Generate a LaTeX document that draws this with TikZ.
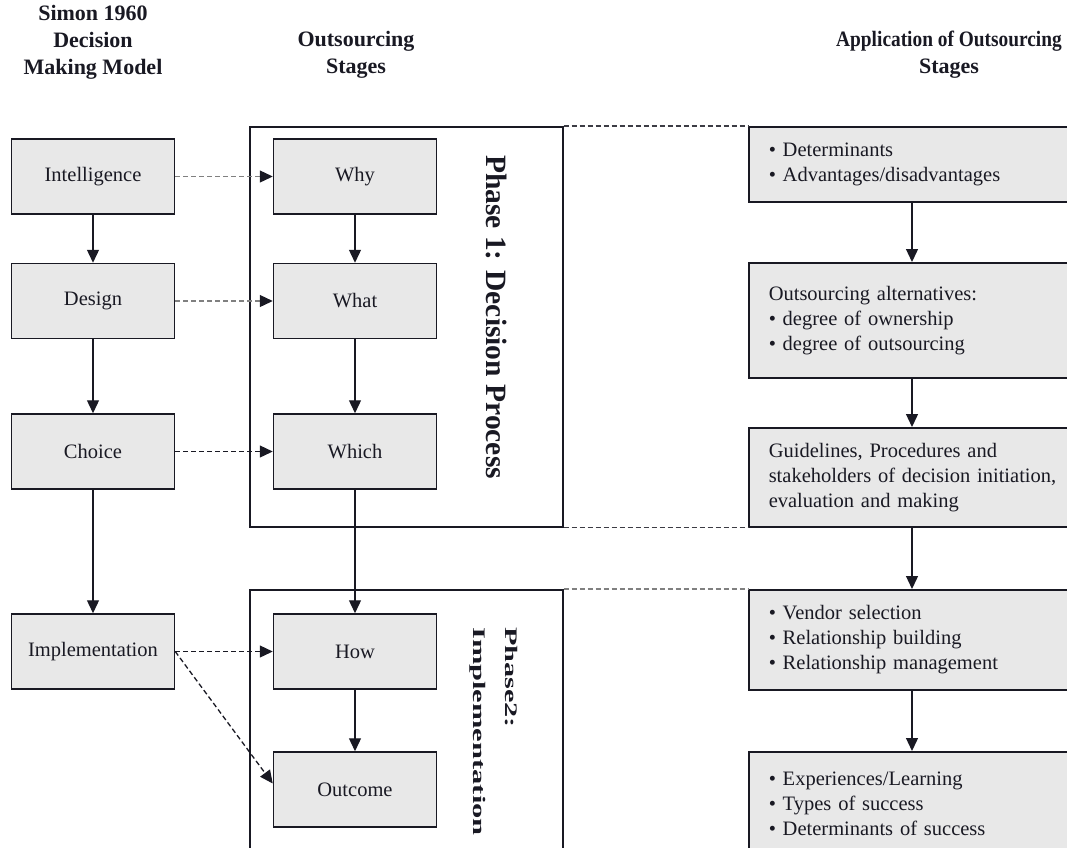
\documentclass[tikz,border=0pt]{standalone}
\usepackage{fontspec}
\setmainfont{Liberation Serif}
\usetikzlibrary{arrows.meta}
\definecolor{boxgray}{RGB}{232,232,232}
\definecolor{dashgray}{RGB}{128,128,128}
\definecolor{inkc}{RGB}{25,25,35}
\begin{document}
\begin{tikzpicture}[x=1pt,y=-1pt,
  sbox/.style={draw=inkc, line width=1.5pt, fill=boxgray, minimum width=163pt, minimum height=75pt, inner sep=0pt, text=inkc, font=\fontsize{20.5}{25}\selectfont},
  rbox/.style={draw=inkc, line width=1.5pt, fill=boxgray, text width=320pt, inner xsep=20pt, inner ysep=0pt, align=left, anchor=north west, text=inkc, font=\fontsize{20.5}{25}\selectfont},
  phbox/.style={draw=inkc, line width=1.5pt, anchor=north west, inner sep=0pt},
  hdr/.style={align=center, text=inkc, font=\bfseries\fontsize{22}{27}\selectfont},
  arr/.style={draw=inkc, line width=1.3pt, -{Triangle[length=13pt,width=12pt,color=inkc]}},
  gdarr/.style={arr, draw=dashgray, dash pattern=on 5pt off 3pt},
  kdarr/.style={arr, dash pattern=on 5pt off 3pt},
  kdline/.style={draw=inkc!85, line width=1.4pt, dash pattern=on 5pt off 3pt},
  gdline/.style={draw=dashgray, line width=1.4pt, dash pattern=on 5pt off 3pt}
]
\useasboundingbox (0,0) rectangle (1067,847);
\clip (0,0) rectangle (1067,847);

% headers
\node[hdr] (h1) at (93,42) {Simon 1960\\Decision\\Making Model};
\node[hdr] (h2) at (356,55) {Outsourcing\\Stages};
\node[hdr] (h3) at (949,55) {\scalebox{0.88}[1]{Application of Outsourcing}\\Stages};

% phase boxes
\node[phbox, minimum width=313pt, minimum height=400pt] (ph1) at (249,126) {};
\node[phbox, minimum width=313pt, minimum height=300pt] (ph2) at (249,589) {};

% phase labels
\node[rotate=-90, inner sep=0pt, text=inkc, font=\bfseries\fontsize{29.5}{32}\selectfont] (lab1) at (497,317) {Phase 1: Decision Process};
\node[rotate=-90, anchor=north west, align=left, inner sep=0pt, text=inkc, font=\bfseries\fontsize{28}{32}\selectfont] (lab2) at (518,627) {\scalebox{1.08}[0.63]{Phase2:}\\\scalebox{1.09}[0.63]{Implementation}};

% left column
\node[sbox] (int) at (93,176.5) {Intelligence};
\node[sbox] (des) at (93,301) {Design};
\node[sbox] (cho) at (93,451.5) {Choice};
\node[sbox] (imp) at (93,651.5) {Implementation};

% middle column
\node[sbox] (why) at (355,176.5) {Why};
\node[sbox] (wht) at (355,301) {What};
\node[sbox] (whc) at (355,451.5) {Which};
\node[sbox] (how) at (355,651.5) {How};
\node[sbox] (out) at (355,789.5) {Outcome};

% right column
\node[rbox, minimum height=75pt] (r1) at (748,126) {\makebox[14pt][l]{•}Determinants\\\makebox[14pt][l]{•}Advantages/disadvantages};
\node[rbox, minimum height=115pt] (r2) at (748,262) {Outsourcing alternatives:\\\makebox[14pt][l]{•}degree of ownership\\\makebox[14pt][l]{•}degree of outsourcing};
\node[rbox, minimum height=99pt] (r3) at (748,427) {Guidelines, Procedures and\\stakeholders of decision initiation,\\evaluation and making};
\node[rbox, minimum height=100pt] (r4) at (748,589) {\makebox[14pt][l]{•}Vendor selection\\\makebox[14pt][l]{•}Relationship building\\\makebox[14pt][l]{•}Relationship management};
\node[rbox, minimum height=104pt] (r5) at (748,751) {\makebox[14pt][l]{•}Experiences/Learning\\\makebox[14pt][l]{•}Types of success\\\makebox[14pt][l]{•}Determinants of success};

% vertical arrows
\draw[arr] (int) -- (des);
\draw[arr] (des) -- (cho);
\draw[arr] (cho) -- (imp);
\draw[arr] (why) -- (wht);
\draw[arr] (wht) -- (whc);
\draw[arr] (whc) -- (how);
\draw[arr] (how) -- (out);
\draw[arr] ([xshift=164pt]r1.south west) -- ([xshift=164pt]r2.north west);
\draw[arr] ([xshift=164pt]r2.south west) -- ([xshift=164pt]r3.north west);
\draw[arr] ([xshift=164pt]r3.south west) -- ([xshift=164pt]r4.north west);
\draw[arr] ([xshift=164pt]r4.south west) -- ([xshift=164pt]r5.north west);

% dashed horizontal arrows
\draw[gdarr] (int) -- (why);
\draw[gdarr] (des) -- (wht);
\draw[kdarr] (cho) -- (whc);
\draw[kdarr] (imp) -- (how);
\draw[kdarr] (imp.east) -- ([yshift=6pt]out.west);

% dashed links phase boxes -> right boxes
\draw[kdline] (ph1.north east) -- (r1.north west);
\draw[kdline] (ph1.south east) -- (r3.south west);
\draw[gdline] (ph2.north east) -- (r4.north west);
\end{tikzpicture}
\end{document}
